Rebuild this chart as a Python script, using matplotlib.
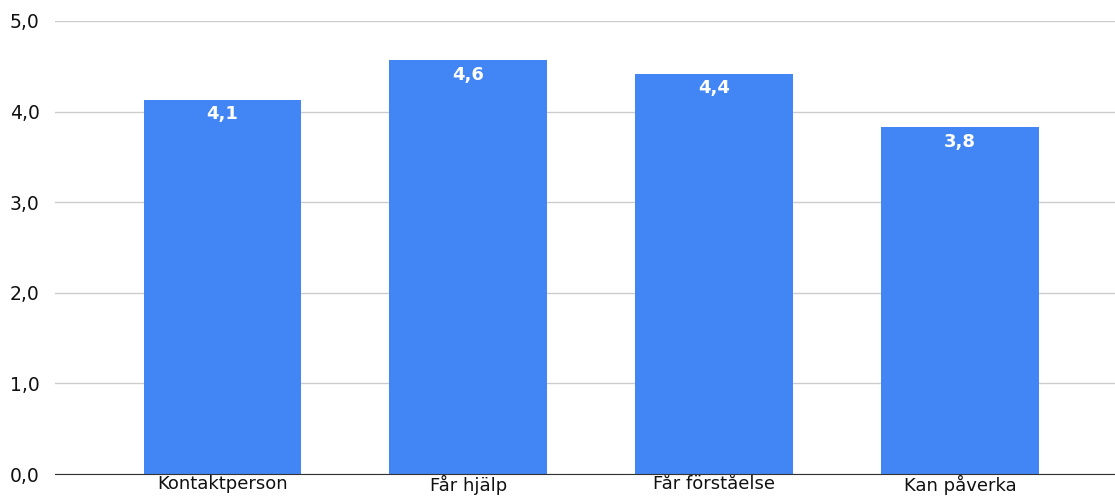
import matplotlib.pyplot as plt

# data
categories = ["Kontaktperson", "Får hjälp", "Får förståelse", "Kan påverka"]
values = [4.13, 4.57, 4.42, 3.83]
value_labels = ["4,1", "4,6", "4,4", "3,8"]
y_ticks = [0, 1, 2, 3, 4, 5]
y_tick_labels = ["0,0", "1,0", "2,0", "3,0", "4,0", "5,0"]

plt.rcParams['font.family'] = ['DejaVu Sans']

fig = plt.figure(figsize=(11.15, 5), dpi=100)
ax = fig.add_axes([0.0493, 0.052, 0.9507, 0.906])

x = range(len(categories))
bars = ax.bar(x, values, width=0.64, color="#4285F4", zorder=3)

for b, lab in zip(bars, value_labels):
    ax.annotate(lab, (b.get_x() + b.get_width() / 2, b.get_height()),
                xytext=(0, -4), textcoords="offset points",
                ha="center", va="top", color="white", fontsize=13,
                fontweight="bold", zorder=4)

ax.set_ylim(0, 5)
ax.set_xlim(-0.68, 3.63)
ax.set_yticks(y_ticks)
ax.set_yticklabels(y_tick_labels, fontsize=13.5)
ax.set_xticks(list(x))
ax.set_xticklabels(categories, fontsize=13)
ax.tick_params(axis="both", length=0, colors="#111111")
ax.tick_params(axis="y", pad=11)
ax.tick_params(axis="x", pad=1)

ax.grid(axis="y", color="#cccccc", linewidth=1, zorder=0)
for s in ["top", "right", "left"]:
    ax.spines[s].set_visible(False)
ax.spines["bottom"].set_color("#333333")
ax.spines["bottom"].set_zorder(5)

fig.savefig("out.png", dpi=100)
